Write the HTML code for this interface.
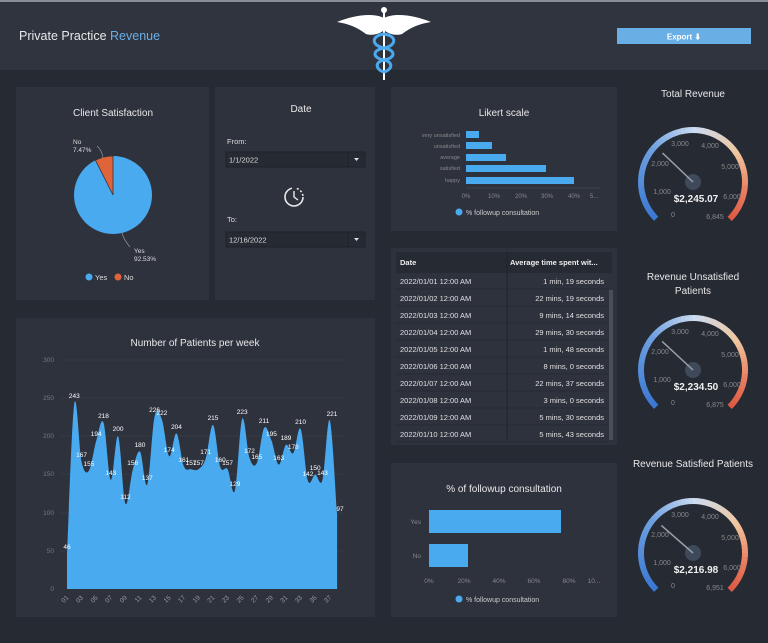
<!DOCTYPE html>
<html><head><meta charset="utf-8"><style>
html,body{margin:0;padding:0;background:#262a33;}
svg{display:block;font-family:"Liberation Sans",sans-serif;}
</style></head><body>
<svg id="s" width="768" height="643" viewBox="0 0 768 643" xmlns="http://www.w3.org/2000/svg">
<rect width="768" height="643" fill="#262a33"/>
<rect width="768" height="70" fill="#30343f"/>
<rect width="768" height="2" fill="#8a8e96"/>
<text x="19" y="40" font-size="12.5" fill="#e8e8e8">Private Practice <tspan fill="#6aaee6">Revenue</tspan></text>
<rect x="617" y="28" width="134" height="16" fill="#6aaee6"/>
<text x="684" y="39.5" font-size="8" fill="#fff" text-anchor="middle" font-weight="bold">Export ⬇</text>
<!-- logo -->
<g>
<path d="M384 18 C372 12 352 16 337 22 C350 24 358 28 366 34 C372 36 380 34 384 30Z" fill="#fff"/>
<path d="M384 18 C396 12 416 16 431 22 C418 24 410 28 402 34 C396 36 388 34 384 30Z" fill="#fff"/>
<circle cx="384" cy="10" r="3" fill="#fff"/>
<rect x="383" y="10" width="2" height="70" fill="#fff"/>
<path d="M384 34 C370 36 372 46 384 48 C396 50 396 58 384 60 C374 62 376 70 384 72" stroke="#4aaaf0" stroke-width="3" fill="none"/>
<path d="M384 34 C398 36 396 46 384 48 C372 50 372 58 384 60 C394 62 392 70 384 72" stroke="#4aaaf0" stroke-width="3" fill="none"/>
</g>
<!-- panels -->
<rect x="16" y="87" width="193" height="213" fill="#2e323d"/>
<rect x="215" y="87" width="160" height="213" fill="#2e323d"/>
<rect x="16" y="318" width="359" height="299" fill="#2e323d"/>
<rect x="391" y="87" width="226" height="144" fill="#2e323d"/>
<rect x="391" y="248" width="226" height="197" fill="#2e323d"/>
<rect x="391" y="463" width="226" height="154" fill="#2e323d"/>
<!-- pie -->
<text x="113" y="116" font-size="10" fill="#e8e8e8" text-anchor="middle">Client Satisfaction</text>
<circle cx="113" cy="195" r="39" fill="#4aaaf0"/>
<path d="M113 195 L113 156 A39 39 0 0 0 95.4 160.2Z" fill="#e0643a" stroke="#2e323d" stroke-width="0.8"/>
<path d="M97 146 Q102 150 103 158" stroke="#999" fill="none" stroke-width="0.7"/>
<path d="M122 233 Q124 240 130 247" stroke="#999" fill="none" stroke-width="0.7"/>
<text x="73" y="144" font-size="6.5" fill="#ddd">No</text>
<text x="73" y="152" font-size="6.5" fill="#ddd">7.47%</text>
<text x="134" y="253" font-size="6.5" fill="#ddd">Yes</text>
<text x="134" y="261" font-size="6.5" fill="#ddd">92.53%</text>
<circle cx="89" cy="277" r="3.5" fill="#4aaaf0"/><text x="95" y="280" font-size="7.5" fill="#ddd">Yes</text>
<circle cx="118" cy="277" r="3.5" fill="#e0643a"/><text x="124" y="280" font-size="7.5" fill="#ddd">No</text>
<!-- date -->
<text x="301" y="112" font-size="10" fill="#e8e8e8" text-anchor="middle">Date</text>
<text x="227" y="144" font-size="7.5" fill="#ddd">From:</text>
<rect x="226" y="152" width="139" height="15" fill="#262a33" stroke="#1e2128"/>
<line x1="348" y1="152" x2="348" y2="167" stroke="#1e2128"/>
<text x="229" y="162.5" font-size="7.5" fill="#ddd">1/1/2022</text>
<path d="M354 158 L359 158 L356.5 161Z" fill="#ddd"/>
<circle cx="294" cy="197" r="9" fill="none" stroke="#e8e8e8" stroke-width="1.6" stroke-dasharray="40 5 2 2 2 2 2"/>
<path d="M294 191 L294 197 L298 200" stroke="#e8e8e8" stroke-width="1.4" fill="none"/>
<text x="227" y="222" font-size="7.5" fill="#ddd">To:</text>
<rect x="226" y="232" width="139" height="15" fill="#262a33" stroke="#1e2128"/>
<line x1="348" y1="232" x2="348" y2="247" stroke="#1e2128"/>
<text x="229" y="242.5" font-size="7.5" fill="#ddd">12/16/2022</text>
<path d="M354 238 L359 238 L356.5 241Z" fill="#ddd"/>
<!-- likert -->
<text x="504" y="116" font-size="10" fill="#e8e8e8" text-anchor="middle">Likert scale</text>
<g font-size="5.5" fill="#888" text-anchor="end">
<text x="460" y="137">very unsatisfied</text><text x="460" y="148">unsatisfied</text><text x="460" y="159">average</text><text x="460" y="170">satisfied</text><text x="460" y="182">happy</text></g>
<g fill="#4aaaf0"><rect x="466" y="131" width="13" height="7"/><rect x="466" y="142" width="26" height="7"/><rect x="466" y="154" width="40" height="7"/><rect x="466" y="165" width="80" height="7"/><rect x="466" y="177" width="108" height="7"/></g>
<line x1="466" y1="188" x2="600" y2="188" stroke="#3d414b"/>
<g font-size="6" fill="#888" text-anchor="middle"><text x="466" y="198">0%</text><text x="494" y="198">10%</text><text x="521" y="198">20%</text><text x="547" y="198">30%</text><text x="574" y="198">40%</text><text x="594" y="198">5...</text></g>
<circle cx="459" cy="212" r="3.5" fill="#4aaaf0"/><text x="466" y="215" font-size="7" fill="#ccc">% followup consultation</text>
<!-- table -->
<rect x="396" y="252" width="216" height="21" fill="#262a33"/>
<line x1="507" y1="252" x2="507" y2="440" stroke="#1e2128"/>
<text x="400" y="265" font-size="7.5" fill="#eee" font-weight="bold">Date</text>
<text x="510" y="265" font-size="7.5" fill="#eee" font-weight="bold">Average time spent wit...</text>
<rect x="609" y="290" width="4" height="150" fill="#4a4e58"/>
<g font-size="7.5" fill="#e0e0e0" id="rows"></g>
<!-- followup -->
<text x="504" y="492" font-size="10" fill="#e8e8e8" text-anchor="middle">% of followup consultation</text>
<rect x="429" y="510" width="132" height="23" fill="#4aaaf0"/>
<rect x="429" y="544" width="39" height="23" fill="#4aaaf0"/>
<g font-size="6.5" fill="#888" text-anchor="end"><text x="421" y="524">Yes</text><text x="421" y="558">No</text></g>
<g font-size="6.5" fill="#888" text-anchor="middle"><text x="429" y="583">0%</text><text x="464" y="583">20%</text><text x="499" y="583">40%</text><text x="534" y="583">60%</text><text x="569" y="583">80%</text><text x="594" y="583">10...</text></g>
<circle cx="459" cy="599" r="3.5" fill="#4aaaf0"/><text x="466" y="602" font-size="7" fill="#ccc">% followup consultation</text>
<!-- area chart -->
<text x="195" y="346" font-size="10" fill="#e8e8e8" text-anchor="middle">Number of Patients per week</text>
<g stroke="#363a45"><line x1="60" y1="360" x2="345" y2="360"/><line x1="60" y1="398" x2="345" y2="398"/><line x1="60" y1="436" x2="345" y2="436"/><line x1="60" y1="474" x2="345" y2="474"/><line x1="60" y1="513" x2="345" y2="513"/><line x1="60" y1="551" x2="345" y2="551"/></g>
<g font-size="6.5" fill="#777" text-anchor="end"><text x="54" y="362">300</text><text x="54" y="400">250</text><text x="54" y="438">200</text><text x="54" y="476">150</text><text x="54" y="515">100</text><text x="54" y="553">50</text><text x="54" y="591">0</text></g>
<path id="area" fill="#4aaaf0" d=""/>
<g font-size="6.5" fill="#fff" text-anchor="middle">
<text x="67" y="549">46</text><text x="74.3" y="398">243</text><text x="81.6" y="457">167</text><text x="88.9" y="466">155</text><text x="96.2" y="436">194</text><text x="103.5" y="418">218</text><text x="110.8" y="475">143</text><text x="118.1" y="431">200</text><text x="125.4" y="499">112</text><text x="132.7" y="465">156</text><text x="140" y="447">180</text><text x="147.3" y="480">137</text><text x="154.6" y="412">226</text><text x="161.9" y="415">222</text><text x="169.2" y="452">174</text><text x="176.5" y="429">204</text><text x="183.8" y="462">161</text><text x="191.1" y="465">157</text><text x="198.4" y="465">157</text><text x="205.7" y="454">171</text><text x="213" y="420">215</text><text x="220.3" y="462">160</text><text x="227.6" y="465">157</text><text x="234.9" y="486">129</text><text x="242.2" y="414">223</text><text x="249.5" y="453">172</text><text x="256.8" y="459">165</text><text x="264.1" y="423">211</text><text x="271.4" y="436">195</text><text x="278.7" y="460">163</text><text x="286" y="440">189</text><text x="293.3" y="449">178</text><text x="300.6" y="424">210</text><text x="307.9" y="476">142</text><text x="315.2" y="470">150</text><text x="322.5" y="475">143</text><text x="332" y="416">221</text><text x="340" y="511">97</text>
</g>
<g font-size="6.5" fill="#999" id="xl"></g>
<!-- gauges -->
<text x="693" y="97" font-size="10" fill="#e8e8e8" text-anchor="middle">Total Revenue</text>
<text x="693" y="280" font-size="10" fill="#e8e8e8" text-anchor="middle">Revenue Unsatisfied</text>
<text x="693" y="294" font-size="10" fill="#e8e8e8" text-anchor="middle">Patients</text>
<text x="693" y="467" font-size="10" fill="#e8e8e8" text-anchor="middle">Revenue Satisfied Patients</text>
<g id="gauges"></g>
<g font-size="7" fill="#888" text-anchor="middle">
<g id="gl0"><text x="673" y="217">0</text><text x="662" y="194">1,000</text><text x="660" y="166">2,000</text><text x="680" y="146">3,000</text><text x="710" y="148">4,000</text><text x="730" y="169">5,000</text><text x="732" y="199">6,000</text><text x="715" y="219">6,845</text></g>
<g transform="translate(0,188)"><text x="673" y="217">0</text><text x="662" y="194">1,000</text><text x="660" y="166">2,000</text><text x="680" y="146">3,000</text><text x="710" y="148">4,000</text><text x="730" y="169">5,000</text><text x="732" y="199">6,000</text><text x="715" y="219">6,875</text></g>
<g transform="translate(0,371)"><text x="673" y="217">0</text><text x="662" y="194">1,000</text><text x="660" y="166">2,000</text><text x="680" y="146">3,000</text><text x="710" y="148">4,000</text><text x="730" y="169">5,000</text><text x="732" y="199">6,000</text><text x="715" y="219">6,951</text></g>
</g>
<g font-size="10" fill="#f0f0f0" text-anchor="middle" font-weight="bold">
<text x="696" y="202">$2,245.07</text><text x="696" y="390">$2,234.50</text><text x="696" y="573">$2,216.98</text></g>
</svg>
<script>
var NS="http://www.w3.org/2000/svg";
function el(t,a,p){var e=document.createElementNS(NS,t);for(var k in a)e.setAttribute(k,a[k]);p.appendChild(e);return e;}
var rows=[["2022/01/01 12:00 AM","1 min, 19 seconds"],["2022/01/02 12:00 AM","22 mins, 19 seconds"],["2022/01/03 12:00 AM","9 mins, 14 seconds"],["2022/01/04 12:00 AM","29 mins, 30 seconds"],["2022/01/05 12:00 AM","1 min, 48 seconds"],["2022/01/06 12:00 AM","8 mins, 0 seconds"],["2022/01/07 12:00 AM","22 mins, 37 seconds"],["2022/01/08 12:00 AM","3 mins, 0 seconds"],["2022/01/09 12:00 AM","5 mins, 30 seconds"],["2022/01/10 12:00 AM","5 mins, 43 seconds"]];
var g=document.getElementById('rows');
rows.forEach(function(r,i){var y=284+i*17;
el('line',{x1:396,y1:y+5,x2:608,y2:y+5,stroke:'#262a33'},g);
var t=el('text',{x:400,y:y},g);t.textContent=r[0];
t=el('text',{x:604,y:y,'text-anchor':'end'},g);t.textContent=r[1];});
var v=[46,243,167,155,194,218,143,200,112,156,180,137,226,222,174,204,161,157,157,171,215,160,157,129,223,172,165,211,195,163,189,178,210,142,150,143,221,97];
var P=v.map(function(a,i){return [67+i*7.3,589-a*0.763];});
var d="M67 589 L"+P[0][0]+" "+P[0][1];
for(var i=0;i<P.length-1;i++){var p0=P[Math.max(0,i-1)],p1=P[i],p2=P[i+1],p3=P[Math.min(P.length-1,i+2)];
var t=0.17;d+=" C"+(p1[0]+(p2[0]-p0[0])*t)+" "+(p1[1]+(p2[1]-p0[1])*t)+" "+(p2[0]-(p3[0]-p1[0])*t)+" "+(p2[1]-(p3[1]-p1[1])*t)+" "+p2[0]+" "+p2[1];}
d+=" L"+P[P.length-1][0]+" 589Z";
document.getElementById('area').setAttribute('d',d);
var xl=document.getElementById('xl');
for(var i=0;i<38;i+=2){var x=67+i*7.3;var s=(i+1<10?"0":"")+(i+1);var tt=el('text',{x:x+2,y:598,transform:'rotate(-45 '+(x+2)+' 598)','text-anchor':'end'},xl);tt.textContent=s;}
var G=document.getElementById('gauges');
function lerp(a,b,t){return a.map(function(x,i){return Math.round(x+(b[i]-x)*t);});}
var stops=[[0,[58,120,210]],[0.3,[110,160,225]],[0.5,[205,220,240]],[0.7,[240,200,160]],[0.85,[235,130,100]],[1,[220,85,65]]];
function col(f){for(var k=0;k<stops.length-1;k++){if(f<=stops[k+1][0]){var c=lerp(stops[k][1],stops[k+1][1],(f-stops[k][0])/(stops[k+1][0]-stops[k][0]));return 'rgb('+c+')';}}return 'rgb(220,85,65)';}
[[182,2245.07/6845],[370,2234.5/6875],[553,2216.98/6951]].forEach(function(q){var cx=693,cy=q[0],R=52;
var N=60;for(var k=0;k<N;k++){var a1=(225-k*270/N)*Math.PI/180,a2=(225-(k+1.05)*270/N)*Math.PI/180;
el('path',{d:'M'+(cx+R*Math.cos(a1))+' '+(cy-R*Math.sin(a1))+' A'+R+' '+R+' 0 0 1 '+(cx+R*Math.cos(a2))+' '+(cy-R*Math.sin(a2)),stroke:col(k/N),'stroke-width':6,fill:'none'},G);}
var a=(225-q[1]*270)*Math.PI/180;
el('circle',{cx:cx,cy:cy,r:8,fill:'#3e4a5a'},G);
el('line',{x1:cx,y1:cy,x2:cx+42*Math.cos(a),y2:cy-42*Math.sin(a),stroke:'#9aa0a8','stroke-width':1.5},G);});
</script>
</body></html>
